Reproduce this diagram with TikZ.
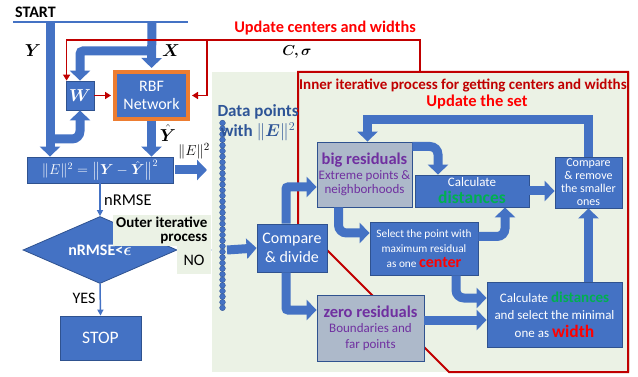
\documentclass[tikz,border=0pt]{standalone}
\usepackage{amsmath,bm}
\usepackage{fontspec}
\setmainfont{Carlito}
\usetikzlibrary{arrows.meta,shapes.geometric,positioning}
\definecolor{boxblue}{HTML}{4472C4}
\definecolor{edgeblue}{HTML}{2F528F}
\definecolor{greybox}{HTML}{ADB9CA}
\definecolor{bggreen}{HTML}{EBF2E5}
\definecolor{framered}{HTML}{C00000}
\definecolor{brightred}{HTML}{FF0000}
\definecolor{resgreen}{HTML}{00B050}
\definecolor{respurple}{HTML}{7030A0}
\definecolor{navytext}{HTML}{2E5597}
\definecolor{netorange}{HTML}{ED7D31}
\tikzset{
  blockbox/.style={draw=edgeblue, fill=boxblue, text=white, align=center,
    line width=0.8pt, inner sep=0pt},
  greyblock/.style={blockbox, fill=greybox, text=respurple},
  bigarrow/.style={draw=boxblue, line width=9pt, -{Triangle[width=20pt,length=10pt]}},
  thinarrow/.style={draw=boxblue, line width=1.5pt, -{Triangle[width=6pt,length=6pt]}},
  redarrow/.style={draw=framered, line width=1.5pt, -{Triangle[width=7pt,length=6pt]}},
  fs/.style={font=\fontsize{#1}{#1}\selectfont, inner sep=0pt}
}
\begin{document}
\begin{tikzpicture}[x=1pt,y=-1pt,line join=miter]
  \useasboundingbox (0,0) rectangle (638,377);
  % green area of the outer iterative process
  \fill[bggreen] (212,72) rectangle (630,372);
  % frame of the inner process
  \draw[framered, line width=2pt] (298,224) -- (298,72) -- (628,72) -- (628,372) -- (449,372) -- (327,250);
  \node[font=\bfseries\fontsize{15}{15}\selectfont, text=framered, inner sep=0pt] (innerlbl) at (463,85)
    {Inner iterative process for getting centers and widths};
  \node[font=\bfseries\fontsize{16.5}{16.5}\selectfont, text=brightred, inner sep=0pt] (setlbl) at (477,102) {Update the set};

  % start line
  \node[font=\bfseries\fontsize{16}{16}\selectfont, anchor=west, inner sep=0pt] (start) at (15,12) {START};
  \coordinate (startL) at (13,22);
  \coordinate (startR) at (188,22);
  \draw[boxblue, line width=2pt] (startL) -- (startR);
  \coordinate (ysrc) at (50,22);
  \coordinate (xsrc) at (152,22);

  % network part
  \node[blockbox, minimum width=28pt, minimum height=29pt, font=\fontsize{18}{18}\selectfont] (w) at (80,95.5) {$\bm{W}$};
  \node[blockbox, draw=netorange, line width=4pt, minimum width=73pt, minimum height=47pt,
    font=\fontsize{16}{18}\selectfont] (rbf) at (151.5,95.5) {RBF\\Network};
  \node[blockbox, minimum width=146pt, minimum height=26pt, font=\fontsize{14}{14}\selectfont] (err) at (100,170)
    {$\|E\|^2=\bigl\|\bm{Y}-\hat{\bm{Y}}\bigr\|^2$};
  \node[blockbox, diamond, aspect=2.3, minimum width=154pt, minimum height=67pt,
    font=\bfseries\fontsize{16}{16}\selectfont] (dia) at (100,250) {nRMSE<$\bm{\epsilon}$};
  \node[blockbox, minimum width=81pt, minimum height=44pt, font=\fontsize{17.5}{17.5}\selectfont] (stop) at (100.5,338) {STOP};

  \draw[bigarrow] (ysrc) -- (ysrc |- err.north);
  \draw[bigarrow] (xsrc) -- ([yshift=2pt]rbf.north);
  \draw[bigarrow, rounded corners=3pt] (152,51) -| (w.north);
  \draw[bigarrow, rounded corners=8pt] (50,139) -| (w.south);
  \draw[bigarrow] (rbf.south) -- (rbf.south |- err.north);
  \coordinate (enorm) at (207,170);
  \draw[bigarrow] ([xshift=2pt]err.east) -- (enorm);
  \node[fs=16] (ylbl) at (33,51) {$\bm{Y}$};
  \node[fs=16] (xlbl) at (171,51) {$\bm{X}$};
  \node[fs=16] (yhatlbl) at (168,133) {$\hat{\bm{Y}}$};
  \node[fs=15] (enormlbl) at (194,151) {$\|E\|^2$};

  % update of centers and widths
  \coordinate (updsrc) at (420,72);
  \coordinate (updtop) at (420,40);
  \coordinate (updbr) at (207,40);
  \draw[redarrow] (updsrc) -- (updtop) -| ([xshift=1pt]w.north west);
  \draw[redarrow] (updbr) |- ([xshift=2pt]rbf.east);
  \draw[redarrow] (w.east) -- ([xshift=-2pt]rbf.west);
  \node[font=\bfseries\fontsize{16.3}{16.3}\selectfont, text=brightred, inner sep=0pt] (updlbl) at (325,28) {Update centers and widths};
  \node[fs=15] (cslbl) at (297,52) {$\bm{C,\sigma}$};

  % outer decision
  \coordinate (noend) at (212,250);
  \draw[thinarrow] (err.south) -- (dia.north);
  \draw[thinarrow] (dia.east) -- (noend);
  \draw[thinarrow] (dia.south) -- (stop.north);
  \node[fs=16.5, anchor=west] (rmselbl) at (104,200) {nRMSE};
  \node[fs=16] (yeslbl) at (84,298) {YES};
  \node[font=\bfseries\fontsize{15}{14}\selectfont, fill=bggreen, align=right, anchor=south east,
    minimum width=98pt, inner sep=2pt] (outerlbl) at (211,246) {Outer iterative\\process};
  \node[fs=16, fill=bggreen, minimum width=34pt, minimum height=28pt] (nolbl) at (194,260) {NO};

  % data points
  \foreach \i in {0,...,33}
    \fill[boxblue, draw=edgeblue, line width=0.3pt] (222.5,123+\i*5.6) circle (2.9pt);
  \node[font=\bfseries\fontsize{17}{20}\selectfont, text=navytext, align=center, inner sep=0pt] (datalbl) at (258,123)
    {Data points\\with $\|\bm{E}\|^2$};
  \coordinate (colout) at (227,250);

  % inner process blocks
  \node[blockbox, minimum width=70pt, minimum height=48pt, font=\fontsize{16}{19}\selectfont] (cmp) at (292,248)
    {Compare\\\& divide};
  \node[greyblock, minimum width=95pt, minimum height=65pt, font=\fontsize{13}{14.5}\selectfont] (big) at (364.5,174.5)
    {{\bfseries\fontsize{16.5}{18}\selectfont big residuals}\\Extreme points \&\\neighborhoods};
  \node[blockbox, minimum width=114pt, minimum height=32pt, font=\fontsize{13}{17}\selectfont] (dist) at (472,191)
    {Calculate\\{\color{resgreen}\bfseries\fontsize{17.5}{15}\selectfont distances}};
  \node[blockbox, minimum width=67pt, minimum height=51pt, font=\fontsize{12}{13}\selectfont] (rem) at (588.5,182.5)
    {Compare\\\& remove\\the smaller\\ones};
  \node[blockbox, minimum width=108pt, minimum height=53pt, font=\fontsize{11.3}{15}\selectfont] (sel) at (424,248.5)
    {Select the point with\\maximum residual\\as one {\color{brightred}\bfseries\fontsize{16}{16}\selectfont center}};
  \node[blockbox, minimum width=135pt, minimum height=65pt, font=\fontsize{13}{17.5}\selectfont] (wid) at (554.5,314.5)
    {Calculate {\color{resgreen}\bfseries\fontsize{15}{15}\selectfont distances}\\and select the minimal\\one as {\color{brightred}\bfseries\fontsize{17.5}{17.5}\selectfont width}};
  \node[greyblock, minimum width=107pt, minimum height=66pt, font=\fontsize{13}{15.5}\selectfont] (zero) at (370.5,328)
    {{\bfseries\fontsize{16.5}{18}\selectfont zero residuals}\\Boundaries and\\far points};

  \draw[bigarrow] (colout) -- (cmp.west);
  \draw[bigarrow, rounded corners=2pt] ([xshift=-6pt]cmp.north) |- ([yshift=-12.5pt]big.west);
  \draw[bigarrow, rounded corners=2pt] ([xshift=-6pt]cmp.south) |- ([yshift=18pt]zero.west);
  \draw[bigarrow] ([yshift=8pt]zero.east) -- ([yshift=8pt]zero.east -| wid.west);
  \draw[bigarrow, rounded corners=8pt] ([xshift=-26pt]big.south) |- ([yshift=15.5pt]sel.west);
  \draw[bigarrow, rounded corners=8pt] ([yshift=12pt]sel.east) -| ([xshift=33pt]dist.south);
  \draw[bigarrow, rounded corners=8pt] ([xshift=32pt]sel.south) |- ([yshift=16.5pt]wid.west);
  \draw[bigarrow, rounded corners=8pt] ([yshift=28pt]big.east) -| ([xshift=-34pt]dist.north);
  \draw[bigarrow] (dist.east) -- (dist.east -| rem.west);
  \draw[bigarrow] (rem.south |- wid.north) -- (rem.south);
  \draw[bigarrow] (rem.north) -- ++(0,-37) -| ([xshift=3pt]big.north);
\end{tikzpicture}
\end{document}
